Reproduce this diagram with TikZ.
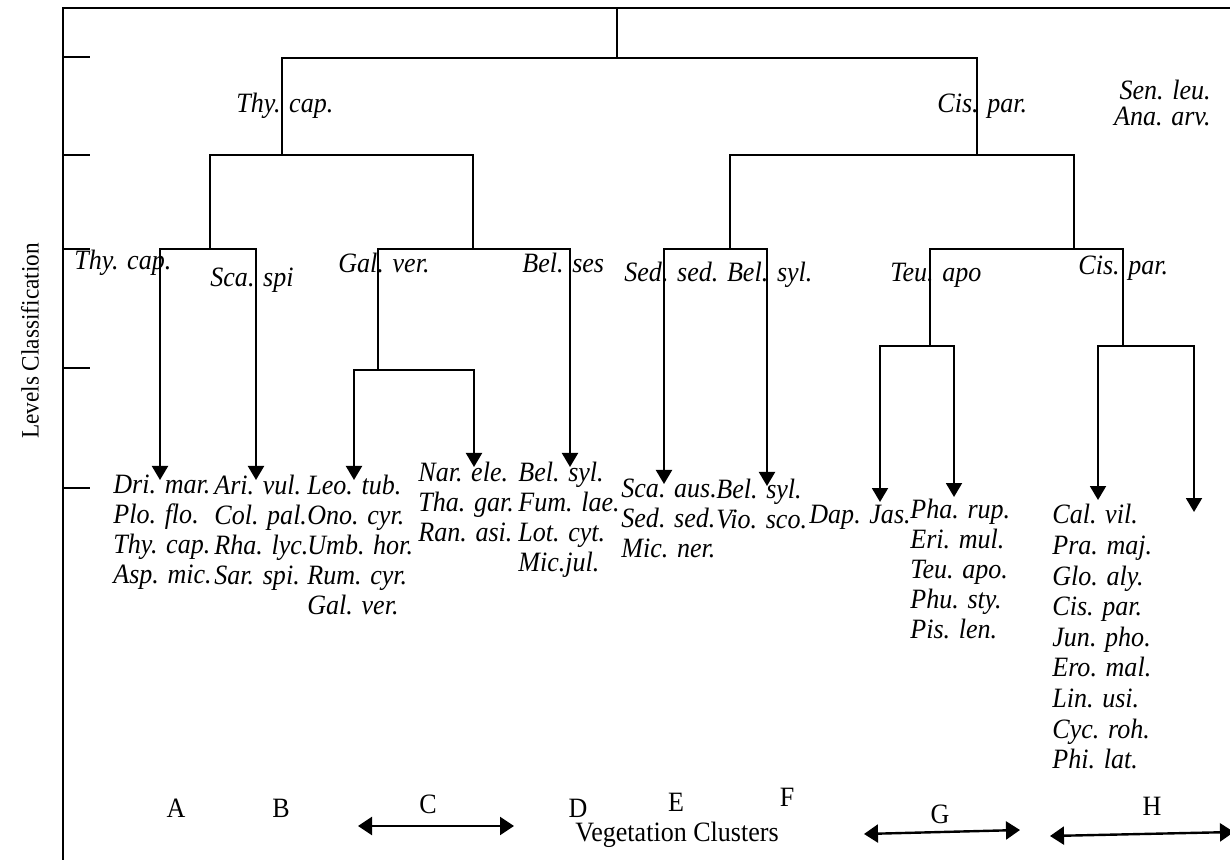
\documentclass[tikz,border=0pt]{standalone}
\usepackage{fontspec}
\setmainfont{Liberation Serif}[FakeStretch=0.93]
\usetikzlibrary{arrows.meta}

\begin{document}
\begin{tikzpicture}[
  x=0.5pt,y=-0.5pt,
  font=\fontsize{14}{15}\selectfont,
  brk/.style={line width=1pt},
  dn/.style={line width=1pt,-{Triangle[length=7pt,width=8pt]}},
  dn2/.style={line width=1pt,{Triangle[length=7pt,width=8pt]}-{Triangle[length=7pt,width=8pt]}},
  clspan/.style={line width=1.2pt,{Triangle[length=7pt,width=9pt]}-{Triangle[length=7pt,width=9pt]}},
  lvl/.style={font=\fontsize{14}{15}\selectfont\itshape,inner sep=0pt,anchor=west},
  spp/.style={font=\fontsize{14}{15}\selectfont\itshape,inner sep=0pt,
              align=left,anchor=north west},
  grp/.style={inner sep=0pt}
]
\useasboundingbox (0,0) rectangle (1230,860);

% frame and level ticks
\coordinate (fTL) at (63,8);
\coordinate (fTR) at (1232,8);
\coordinate (fBL) at (63,862);
\draw[brk] (fTR) -- (fTL) -- (fBL);
\foreach \y in {57,155,249,368,488}
  \draw[brk] (63,\y) -- (90,\y);
\node[rotate=90,font=\fontsize{12.5}{13}\selectfont] (ylab) at (30,341) {Levels Classification};

% junctions
\coordinate (top) at (617,8);
\coordinate (b1) at (617,58);
\coordinate (b2l) at (282,155);
\coordinate (b2r) at (977,155);
\coordinate (b3a) at (210,249);
\coordinate (b3b) at (473,249);
\coordinate (b3c) at (730,249);
\coordinate (b3d) at (1074,249);
\coordinate (b4a) at (378,370);
\coordinate (b4b) at (930,346);
\coordinate (b4c) at (1123,346);
% arrow ends
\coordinate (tA) at (160,480);
\coordinate (tB) at (256,480);
\coordinate (tC1) at (354,480);
\coordinate (tC2) at (474,467);
\coordinate (tD) at (570,467);
\coordinate (tE1) at (664,484);
\coordinate (tE2) at (767,486);
\coordinate (tF1) at (880,502);
\coordinate (tF2) at (954,497);
\coordinate (tH1) at (1098,500);
\coordinate (tH2) at (1194,512);

% dendrogram
\draw[brk] (top) -- (b1);
\draw[brk] (b2l) |- (b1) -| (b2r);
\draw[brk] (b3a) |- (b2l) -| (b3b);
\draw[brk] (b3c) |- (b2r) -| (b3d);
\draw[dn2] (tA) |- (b3a) -| (tB);
\draw[dn] (b4a) |- (b3b) -| (tD);
\draw[dn2] (tE1) |- (b3c) -| (tE2);
\draw[brk] (b4b) |- (b3d) -| (b4c);
\draw[dn2] (tC1) |- (b4a) -| (tC2);
\draw[dn2] (tF1) |- (b4b) -| (tF2);
\draw[dn2] (tH1) |- (b4c) -| (tH2);

% level labels
\node[lvl] (l1a) at (236,106) {Thy. cap.};
\node[lvl] (l1b) at (937,106) {Cis. par.};
\node[lvl,anchor=north east,align=right,font=\fontsize{14}{13}\selectfont\itshape]
  (l1c) at (1211,80) {Sen. leu.\\Ana. arv.};
\node[lvl] (l3a) at (74,263) {Thy. cap.};
\node[lvl] (l3b) at (210,280) {Sca. spi};
\node[lvl] (l3c) at (338,263) {Gal. ver.};
\node[lvl] (l3d) at (522,263) {Bel. ses};
\node[lvl] (l3e) at (624,275) {Sed. sed. Bel. syl.};
\node[lvl] (l3f) at (890,275) {Teu. apo};
\node[lvl] (l3g) at (1078,268) {Cis. par.};

% species lists
\node[spp] (spA) at (113,475) {Dri. mar.\\Plo. flo.\\Thy. cap.\\Asp. mic.};
\node[spp] (spB) at (214,475) {Ari. vul.\\Col. pal.\\Rha. lyc.\\Sar. spi.};
\node[spp] (spC) at (307,475) {Leo. tub.\\Ono. cyr.\\Umb. hor.\\Rum. cyr.\\Gal. ver.};
\node[spp] (spD1) at (418,462) {Nar. ele.\\Tha. gar.\\Ran. asi.};
\node[spp] (spD2) at (518,462) {Bel. syl.\\Fum. lae.\\Lot. cyt.\\Mic.jul.};
\node[spp] (spE1) at (621,479) {Sca. aus.\\Sed. sed.\\Mic. ner.};
\node[spp] (spE2) at (716,479) {Bel. syl.\\Vio. sco.};
\node[lvl] (spDap) at (809,517) {Dap. Jas.};
\node[spp] (spF) at (910,499) {Pha. rup.\\Eri. mul.\\Teu. apo.\\Phu. sty.\\Pis. len.};
\node[spp,font=\fontsize{14}{15.3}\selectfont\itshape] (spH) at (1052,504)
  {Cal. vil.\\Pra. maj.\\Glo. aly.\\Cis. par.\\Jun. pho.\\Ero. mal.\\Lin. usi.\\Cyc. roh.\\Phi. lat.};

% clusters
\foreach \n/\x/\y in {A/176/808,B/281/808,C/428/804,D/578/808,E/676/802,F/787/797,G/940/814,H/1152/806}
  \node[grp] (cl\n) at (\x,\y) {\n};
\node[grp] (vc) at (677,835) {Vegetation Clusters};
\coordinate (sC1) at (358,826);
\coordinate (sC2) at (514,826);
\coordinate (sG1) at (864,834);
\coordinate (sG2) at (1020,830);
\coordinate (sH1) at (1050,836);
\coordinate (sH2) at (1234,832);
\draw[clspan] (sC1) -- (sC2);
\draw[clspan] (sG1) -- (sG2);
\draw[clspan] (sH1) -- (sH2);
\end{tikzpicture}
\end{document}
